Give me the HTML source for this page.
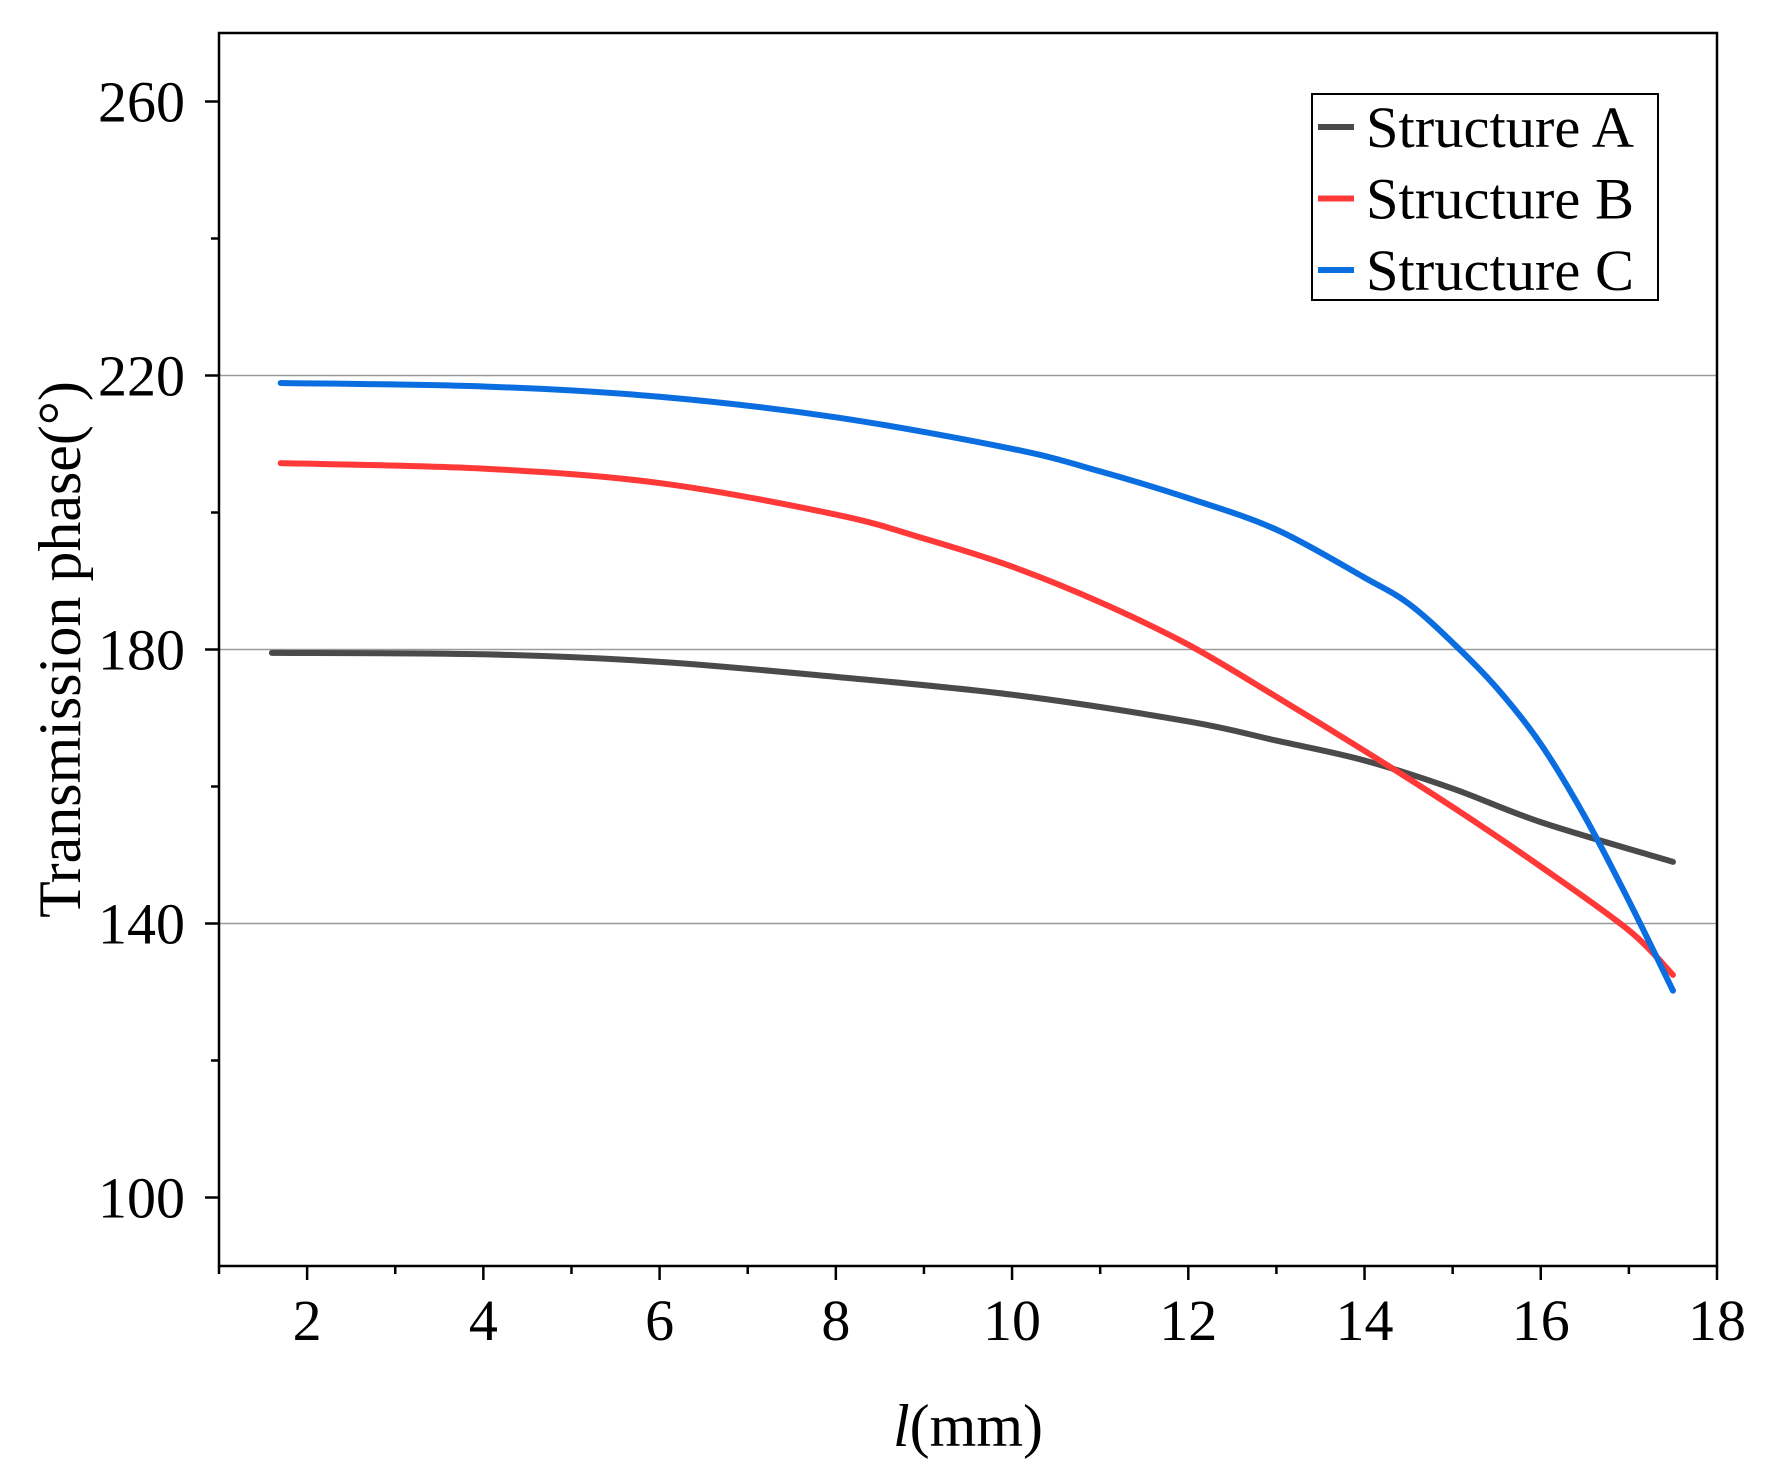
<!DOCTYPE html>
<html><head><meta charset="utf-8"><style>
html,body{margin:0;padding:0;background:#fff;}
svg{display:block;font-family:"Liberation Serif",serif;}
</style></head><body>
<svg id="chart" width="1767" height="1477" viewBox="0 0 1767 1477" xmlns="http://www.w3.org/2000/svg"></svg>
<script>
const xTicks=[2,4,6,8,10,12,14,16,18];
const yTicks=[100,140,180,220,260];
const gridVals=[140,180,220];
const seriesNames=["Structure A","Structure B","Structure C"];
const seriesColors=["#4a4a4a","#ff3838","#0a6ee0"];
const xA=[1.6,4,6,8,10,12,13,14,15,16,17.5];
const yA=[179.5,179.3,178.2,176,173.4,169.5,166.7,163.8,159.7,154.8,149];
const xB=[1.7,4,6,8,9,10,11,12,13,14,15,16,17,17.5];
const yB=[207.2,206.4,204.3,199.7,196.2,192.1,186.9,180.7,173.1,165.2,157.0,148.3,139.0,132.5];
const xC=[1.7,4,6,8,10,11,12,13,14,14.5,15,15.5,16,16.5,17,17.5];
const yC=[218.9,218.4,216.9,213.9,209.3,206,202.1,197.5,190.5,186.7,181,174.4,166.2,155.6,143.3,130.2];

const L=219,R=1717,T=33,B=1266,X0=1,X1=18,Y0=90,Y1=270;
const sx=v=>L+(v-X0)/(X1-X0)*(R-L);
const sy=v=>B-(v-Y0)/(Y1-Y0)*(B-T);
const svg=document.getElementById('chart');
const NS="http://www.w3.org/2000/svg";
function mk(tag,attrs,parent){const e=document.createElementNS(NS,tag);for(const k in attrs)e.setAttribute(k,attrs[k]);(parent||svg).appendChild(e);return e;}

gridVals.forEach(v=>{
  const g=mk('line',{x1:L,x2:R,y1:sy(v),y2:sy(v),stroke:'#999','stroke-width':1.5});
  
  
});
const frame=mk('rect',{x:L,y:T,width:R-L,height:B-T,fill:'none',stroke:'#000','stroke-width':2.5});



for(let v=X0;v<=X1;v++){
  const major=xTicks.includes(v);
  const t=mk('line',{x1:sx(v),x2:sx(v),y1:B,y2:B+(major?14:8),stroke:'#000','stroke-width':2.5});
  
  
}
xTicks.forEach(v=>{
  const t=mk('text',{x:sx(v),y:B+74,'font-size':58,'text-anchor':'middle'});
  t.textContent=v;
  
  
});
for(let v=100;v<=260;v+=20){
  const major=yTicks.includes(v);
  const t=mk('line',{x1:L-(major?14:8),x2:L,y1:sy(v),y2:sy(v),stroke:'#000','stroke-width':2.5});
  
  
}
yTicks.forEach(v=>{
  const t=mk('text',{x:L-34,y:sy(v)+20,'font-size':58,'text-anchor':'end'});
  t.textContent=v;
  
  
});
const xt=mk('text',{x:(L+R)/2,y:1446,'font-size':60,'text-anchor':'middle'});
xt.innerHTML='<tspan font-style="italic">l</tspan>(mm)';


const yt=mk('text',{x:0,y:0,'font-size':60,'text-anchor':'middle',transform:`translate(80,${(T+B)/2}) rotate(-90)`});
yt.textContent='Transmission phase(°)';



[[xA,yA],[xB,yB],[xC,yC]].forEach((s,i)=>{
  const pts=s[0].map((x,j)=>[sx(x),sy(s[1][j])]);
  let d=`M${pts[0][0]},${pts[0][1]}`;
  for(let j=0;j<pts.length-1;j++){
    const p0=pts[j-1]||pts[j],p1=pts[j],p2=pts[j+1],p3=pts[j+2]||p2;
    d+=` C${p1[0]+(p2[0]-p0[0])/6},${p1[1]+(p2[1]-p0[1])/6} ${p2[0]-(p3[0]-p1[0])/6},${p2[1]-(p3[1]-p1[1])/6} ${p2[0]},${p2[1]}`;
  }
  const p=mk('path',{d:d,fill:'none',stroke:seriesColors[i],'stroke-width':6,'stroke-linecap':'round'});
  
  
});

const lg=mk('g',{});


mk('rect',{x:1312,y:94,width:346,height:206,fill:'#fff',stroke:'#000','stroke-width':2},lg);
seriesNames.forEach((n,i)=>{
  const y=127+i*71.5;
  const ln=mk('line',{x1:1318,x2:1354,y1:y,y2:y,stroke:seriesColors[i],'stroke-width':6},lg);
  
  
  const t=mk('text',{x:1366,y:y+20,'font-size':58,textLength:268,lengthAdjust:'spacingAndGlyphs'},lg);
  t.textContent=n;
  
  
});
</script>
</body></html>
